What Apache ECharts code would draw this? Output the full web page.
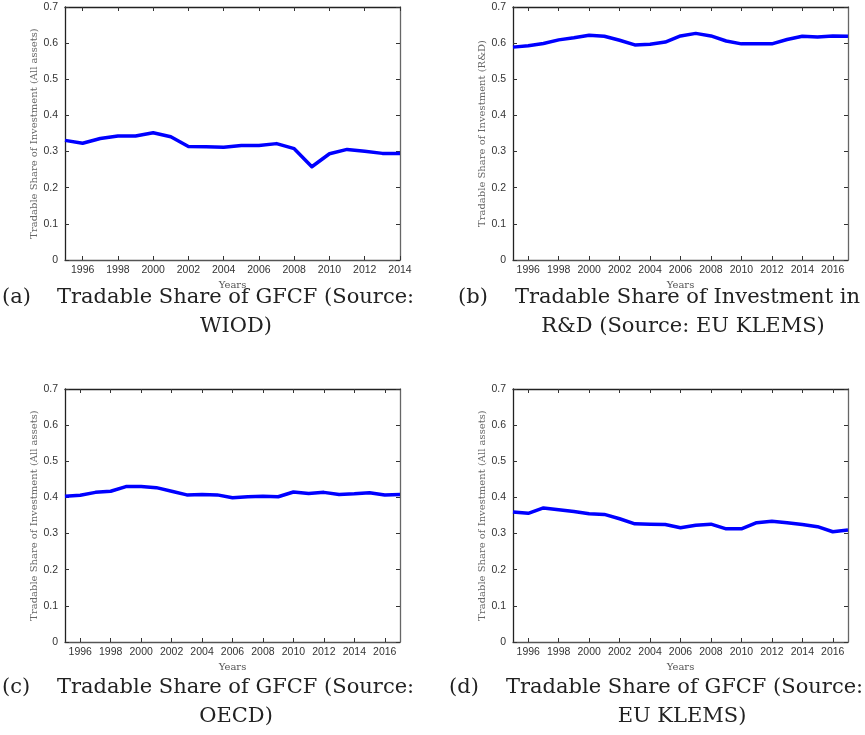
<!DOCTYPE html>
<html>
<head>
<meta charset="utf-8">
<script src="https://cdn.jsdelivr.net/npm/echarts@6/dist/echarts.min.js"></script>
<style>
  html, body { margin: 0; padding: 0; background: #fff; }
  #chart { width: 865px; height: 735px; }
</style>
</head>
<body>
<div id="chart"></div>
<script>
// Years covered by each source
const yearsWIOD = [1995, 1996, 1997, 1998, 1999, 2000, 2001, 2002, 2003, 2004,
                   2005, 2006, 2007, 2008, 2009, 2010, 2011, 2012, 2013, 2014];
const yearsLong = [1995, 1996, 1997, 1998, 1999, 2000, 2001, 2002, 2003, 2004,
                   2005, 2006, 2007, 2008, 2009, 2010, 2011, 2012, 2013, 2014,
                   2015, 2016, 2017];

// (a) Tradable share of GFCF, WIOD
const wiodShare = [0.331, 0.323, 0.336, 0.343, 0.343, 0.352, 0.341, 0.314, 0.313, 0.312,
                   0.317, 0.317, 0.322, 0.308, 0.258, 0.294, 0.306, 0.301, 0.295, 0.295];
// (b) Tradable share of R&D investment, EU KLEMS
const rdShare = [0.589, 0.593, 0.599, 0.609, 0.615, 0.622, 0.619, 0.608, 0.595, 0.597,
                 0.603, 0.620, 0.627, 0.620, 0.606, 0.598, 0.598, 0.598, 0.610, 0.619,
                 0.617, 0.620, 0.619];
// (c) Tradable share of GFCF, OECD
const oecdShare = [0.403, 0.406, 0.414, 0.417, 0.430, 0.430, 0.427, 0.417, 0.407, 0.408,
                   0.407, 0.399, 0.402, 0.403, 0.402, 0.415, 0.411, 0.414, 0.408, 0.410,
                   0.413, 0.407, 0.408];
// (d) Tradable share of GFCF, EU KLEMS
const klemsShare = [0.360, 0.356, 0.371, 0.366, 0.361, 0.355, 0.353, 0.341, 0.327, 0.326,
                    0.325, 0.316, 0.323, 0.326, 0.313, 0.313, 0.330, 0.334, 0.330, 0.325,
                    0.319, 0.305, 0.310];

// Tick labels
const xTicksWIOD = [1996, 1998, 2000, 2002, 2004, 2006, 2008, 2010, 2012, 2014];
const xTicksLong = [1996, 1998, 2000, 2002, 2004, 2006, 2008, 2010, 2012, 2014, 2016];
const yMin = 0, yMax = 0.7, yStep = 0.1;

const yNameAll = 'Tradable Share of Investment (All assets)';
const yNameRD = 'Tradable Share of Investment (R&D)';

const panels = [
  { years: yearsWIOD, values: wiodShare, ticks: xTicksWIOD, yName: yNameAll,
    box: { left: 65, top: 7, width: 335, height: 253 } },
  { years: yearsLong, values: rdShare, ticks: xTicksLong, yName: yNameRD,
    box: { left: 513, top: 7, width: 335, height: 253 } },
  { years: yearsLong, values: oecdShare, ticks: xTicksLong, yName: yNameAll,
    box: { left: 65, top: 389, width: 335, height: 253 } },
  { years: yearsLong, values: klemsShare, ticks: xTicksLong, yName: yNameAll,
    box: { left: 513, top: 389, width: 335, height: 253 } }
];

const SANS = '"Liberation Sans", Arial, sans-serif';
const SERIF = '"DejaVu Serif", serif';
const CAP_FONT = '21px "DejaVu Serif", serif';

const grid = [], xAxis = [], yAxis = [], series = [];

panels.forEach((p, i) => {
  grid.push(Object.assign({ containLabel: false }, p.box));
  const xMin = p.years[0], xMax = p.years[p.years.length - 1];
  const tickIn = { show: true, inside: true, length: 4, customValues: p.ticks,
                   lineStyle: { color: '#333', width: 1 } };
  // bottom axis with labels
  xAxis.push({
    gridIndex: i, type: 'value', position: 'bottom', min: xMin, max: xMax,
    axisLine: { show: true, onZero: false, lineStyle: { color: '#555', width: 1.3 } },
    axisTick: tickIn,
    axisLabel: { show: true, customValues: p.ticks, margin: 5, fontSize: 10.5,
                 fontFamily: SANS, color: '#333', formatter: v => String(v) },
    splitLine: { show: false },
    name: 'Years', nameLocation: 'middle', nameGap: 20,
    nameTextStyle: { fontFamily: SERIF, fontSize: 10, color: '#555' }
  });
  // top mirrored axis
  xAxis.push({
    gridIndex: i, type: 'value', position: 'top', min: xMin, max: xMax,
    axisLine: { show: true, onZero: false, lineStyle: { color: '#222', width: 1.3 } },
    axisTick: tickIn,
    axisLabel: { show: false },
    splitLine: { show: false }
  });
  // left axis with labels
  yAxis.push({
    gridIndex: i, type: 'value', position: 'left', min: yMin, max: yMax, interval: yStep,
    axisLine: { show: true, onZero: false, lineStyle: { color: '#222', width: 1.3 } },
    axisTick: { show: true, inside: true, length: 4, lineStyle: { color: '#333' } },
    axisLabel: { show: true, margin: 7, fontSize: 10.5, fontFamily: SANS, color: '#333' },
    splitLine: { show: false },
    name: p.yName, nameLocation: 'middle', nameGap: 25, nameRotate: 90,
    nameTextStyle: { fontFamily: SERIF, fontSize: 10, color: '#666' }
  });
  // right mirrored axis
  yAxis.push({
    gridIndex: i, type: 'value', position: 'right', min: yMin, max: yMax, interval: yStep,
    axisLine: { show: true, onZero: false, lineStyle: { color: '#666', width: 1.3 } },
    axisTick: { show: true, inside: true, length: 4, lineStyle: { color: '#333' } },
    axisLabel: { show: false },
    splitLine: { show: false }
  });
  series.push({
    type: 'line', xAxisIndex: 2 * i, yAxisIndex: 2 * i,
    data: p.years.map((y, k) => [y, p.values[k]]),
    showSymbol: false, silent: true,
    lineStyle: { color: '#0000ff', width: 3.5, join: 'round' }
  });
});

function capText(text, x, y, align) {
  return { type: 'text', silent: true,
           style: { text: text, x: x, y: y, font: CAP_FONT, fill: '#222',
                    textAlign: align, textVerticalAlign: 'middle' } };
}

const graphic = [
  capText('(a)', 2, 298, 'left'),
  capText('Tradable Share of GFCF (Source:', 57, 298, 'left'),
  capText('WIOD)', 236, 327, 'center'),
  capText('(b)', 458, 298, 'left'),
  capText('Tradable Share of Investment in', 515, 298, 'left'),
  capText('R&D (Source: EU KLEMS)', 683, 327, 'center'),
  capText('(c)', 2, 688, 'left'),
  capText('Tradable Share of GFCF (Source:', 57, 688, 'left'),
  capText('OECD)', 236, 717, 'center'),
  capText('(d)', 449, 688, 'left'),
  capText('Tradable Share of GFCF (Source:', 506, 688, 'left'),
  capText('EU KLEMS)', 682, 717, 'center')
];

const chart = echarts.init(document.getElementById('chart'), null, { renderer: 'canvas' });
chart.setOption({
  animation: false,
  backgroundColor: '#fff',
  grid: grid,
  xAxis: xAxis,
  yAxis: yAxis,
  series: series,
  graphic: graphic
});
</script>
</body>
</html>
